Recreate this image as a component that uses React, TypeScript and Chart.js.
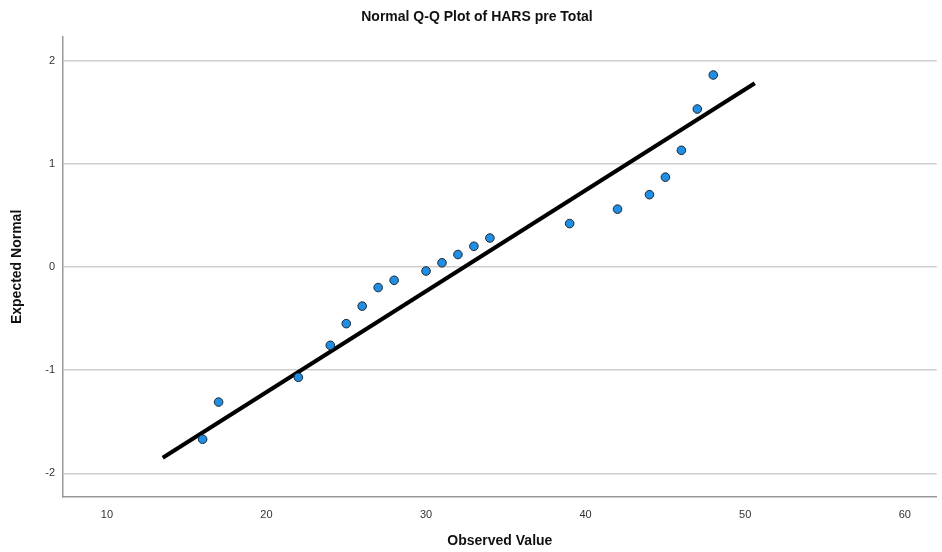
import React, { useEffect, useRef } from "react";
import { Chart, registerables } from "chart.js";

Chart.register(...registerables);

const observedValues = [16, 17, 22, 24, 25, 26, 27, 28, 30, 31, 32, 33, 34, 39, 42, 44, 45, 46, 47, 48];
const expectedNormal = [-1.67, -1.31, -1.07, -0.76, -0.55, -0.38, -0.2, -0.13, -0.04, 0.04, 0.12, 0.2, 0.28, 0.42, 0.56, 0.7, 0.87, 1.13, 1.53, 1.86];
const refLineX = [13.5, 50.6];
const refLineY = [-1.85, 1.78];
const xTicks = [10, 20, 30, 40, 50, 60];
const yTicks = [-2, -1, 0, 1, 2];

const FONT = "'Liberation Sans', Arial, sans-serif";

export default function App() {
  const canvasRef = useRef<HTMLCanvasElement | null>(null);

  useEffect(() => {
    const canvas = canvasRef.current;
    if (!canvas) return;
    const chart = new Chart(canvas, {
      type: "scatter",
      data: {
        datasets: [
          {
            label: "Observed",
            data: observedValues.map((x, i) => ({ x, y: expectedNormal[i] })),
            backgroundColor: "#1f8fe5",
            borderColor: "#1b2733",
            borderWidth: 1,
            pointRadius: 4.3,
            pointHoverRadius: 4.3,
          },
          {
            label: "Reference",
            type: "line",
            data: refLineX.map((x, i) => ({ x, y: refLineY[i] })),
            borderColor: "#000000",
            borderWidth: 4,
            pointRadius: 0,
            showLine: true,
            fill: false,
          },
        ],
      },
      options: {
        responsive: false,
        animation: false,
        layout: { padding: { left: 14, right: 2, top: 0, bottom: 0 } },
        plugins: {
          legend: { display: false },
          tooltip: { enabled: false },
          title: {
            display: true,
            text: "Normal Q-Q Plot of HARS pre Total",
            color: "#111",
            font: { family: FONT, size: 14, weight: "bold" },
            padding: { top: 9, bottom: 11 },
          },
        },
        scales: {
          x: {
            type: "linear",
            min: 7.25,
            max: 62.0,
            afterBuildTicks: (scale: any) => {
              scale.ticks = xTicks.map((v) => ({ value: v }));
            },
            afterFit: (scale: any) => {
              scale.height = 55;
            },
            grid: { display: false, drawTicks: false },
            border: { display: true, color: "#9a9a9a", width: 1.5 },
            ticks: {
              padding: 11,
              color: "#333",
              font: { family: FONT, size: 11 },
              maxRotation: 0,
            },
            title: {
              display: true,
              text: "Observed Value",
              color: "#111",
              font: { family: FONT, size: 14, weight: "bold" },
              padding: { top: 0, bottom: 2 },
            },
          },
          y: {
            type: "linear",
            min: -2.23,
            max: 2.23,
            afterBuildTicks: (scale: any) => {
              scale.ticks = yTicks.map((v) => ({ value: v }));
            },
            afterFit: (scale: any) => {
              scale.width = 49;
            },
            grid: { display: true, color: "#cfcfcf", lineWidth: 1.5, drawTicks: false },
            border: { display: true, color: "#9a9a9a", width: 1.5 },
            ticks: {
              padding: 8,
              color: "#333",
              font: { family: FONT, size: 11 },
            },
            title: {
              display: true,
              text: "Expected Normal",
              color: "#111",
              font: { family: FONT, size: 14, weight: "bold" },
              padding: { top: -5, bottom: 0 },
            },
          },
        },
      },
    } as any);
    return () => chart.destroy();
  }, []);

  return (
    <div style={{ position: "absolute", left: 0, top: 0, width: 942, height: 552, background: "#fff" }}>
      <canvas ref={canvasRef} width={942} height={552} style={{ display: "block" }} />
    </div>
  );
}
